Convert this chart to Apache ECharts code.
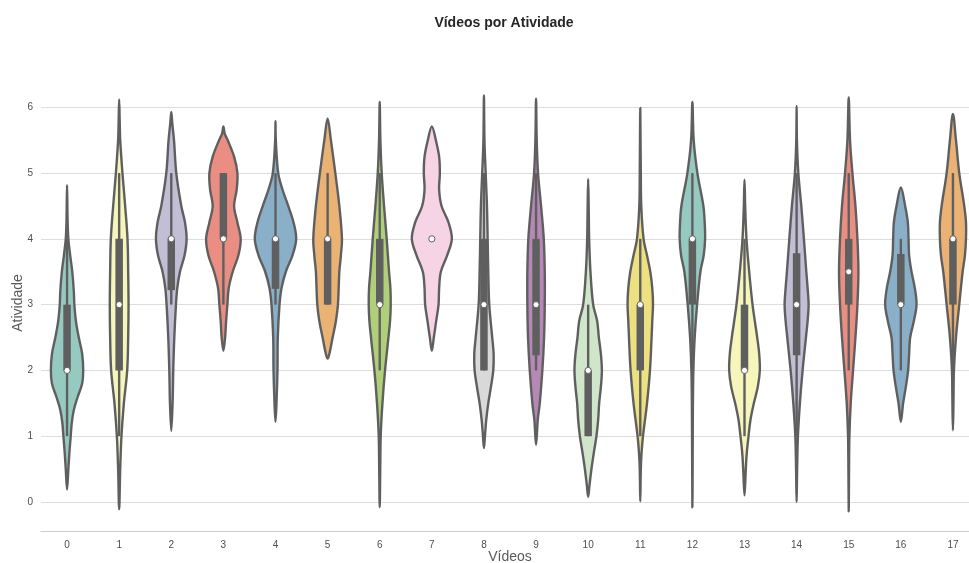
<!DOCTYPE html>
<html>
<head>
<meta charset="utf-8">
<title>Vídeos por Atividade</title>
<script src="https://cdn.jsdelivr.net/npm/echarts@6/dist/echarts.min.js"></script>
<style>
  html, body { margin: 0; padding: 0; background: #ffffff; }
  #chart { width: 969px; height: 563px; }
</style>
</head>
<body>
<div id="chart"></div>
<script>
// Categories on the x axis (video index)
const categories = ['0','1','2','3','4','5','6','7','8','9','10','11','12','13','14','15','16','17'];

// Inner box statistics per video
const medians     = [2, 3, 4,    4, 4,    4, 3, 4, 3, 3,    2, 3, 4, 2, 3,    3.5, 3,    4];
const quartile1   = [2, 2, 3.22, 4, 3.24, 3, 3, 4, 2, 2.23, 1, 2, 3, 2, 2.23, 3,   3,    3];
const quartile3   = [3, 4, 4,    5, 4,    4, 4, 4, 4, 4,    2, 3, 4, 3, 3.78, 4,   3.77, 4];
const whiskerLow  = [1, 1, 3,    3, 3,    3, 2, 4, 2, 2,    1, 1, 2, 1, 1,    2,   2,    2];
const whiskerHigh = [4, 5, 5,    5, 5,    5, 5, 4, 5, 5,    3, 4, 5, 4, 5,    5,   4,    5];

// Density outlines: [activity value, half width in % of the category band], top to bottom
const densityProfiles = [
  [[4.82,0],[4.3,1],[4.0,2.5],[3.75,6],[3.5,10],[3.2,13],[3.0,14],[2.75,17],[2.5,22.5],[2.25,29],[2.0,31],[1.8,29],[1.6,20.5],[1.4,13],[1.2,9],[1.0,7],[0.75,4.5],[0.5,2.5],[0.19,0]],
  [[6.12,0],[5.8,1],[5.5,2],[5.0,6.3],[4.5,11.5],[4.0,16],[3.5,17.3],[3.0,18],[2.5,17.3],[2.0,15.4],[1.5,9],[1.0,4.4],[0.5,2],[-0.11,0]],
  [[5.93,0],[5.75,2],[5.5,5.2],[5.0,9.6],[4.5,19.2],[4.25,26.3],[4.0,29.4],[3.75,25.5],[3.5,16.7],[3.25,11.5],[3.0,9],[2.5,5.8],[2.0,3.8],[1.5,2.5],[1.08,0]],
  [[5.71,0],[5.6,2.5],[5.5,8.3],[5.25,20.5],[5.0,26.9],[4.75,25.5],[4.5,20.5],[4.25,26.9],[4.0,33.2],[3.75,28.8],[3.5,17.9],[3.25,10.2],[3.0,7.7],[2.75,5.2],[2.5,3.3],[2.3,0]],
  [[5.79,0],[5.5,0.6],[5.0,5.2],[4.75,13.4],[4.5,24.4],[4.25,34.6],[4.0,39.7],[3.75,32.6],[3.5,19.8],[3.25,11.5],[3.0,7.7],[2.5,4.4],[2.0,3.8],[1.5,1.9],[1.22,0]],
  [[5.83,0],[5.5,6.3],[5.0,14.8],[4.5,22.5],[4.0,27.5],[3.75,25.5],[3.5,22.5],[3.0,19.8],[2.75,15.9],[2.5,9.6],[2.25,3.3],[2.18,0]],
  [[6.08,0],[5.5,1.3],[5.0,3.8],[4.5,8.3],[4.0,13.4],[3.5,17.9],[3.25,20.5],[3.0,21.1],[2.75,19.8],[2.5,16.7],[2.0,10.2],[1.5,5.2],[1.0,1.9],[0.5,1],[-0.08,0]],
  [[5.71,0],[5.5,7.7],[5.25,14],[5.0,15.4],[4.75,14],[4.5,18.6],[4.25,32],[4.0,38.4],[3.75,29.4],[3.5,17.3],[3.25,14],[3.0,12.9],[2.75,8.3],[2.5,3.8],[2.3,0]],
  [[6.18,0],[5.5,1],[5.0,3.3],[4.5,5.8],[4.0,7.1],[3.5,8.3],[3.0,10.2],[2.5,15.9],[2.25,18.6],[2.0,17.9],[1.75,13.4],[1.5,8.3],[1.25,4.4],[1.0,1.9],[0.82,0]],
  [[6.13,0],[5.5,1.3],[5.0,3.8],[4.5,9.6],[4.0,14.8],[3.5,16.7],[3.0,16.7],[2.5,15.4],[2.0,12.1],[1.5,7.1],[1.25,3.3],[0.87,0]],
  [[4.91,0],[4.5,1],[4.0,1.9],[3.5,4.4],[3.0,9.6],[2.75,17.3],[2.5,20.5],[2.25,24.4],[2.0,26.3],[1.75,24.4],[1.5,21.1],[1.25,19.2],[1.0,15.9],[0.75,10.9],[0.5,6.3],[0.25,2.5],[0.08,0]],
  [[5.99,0],[5.0,1],[4.5,1.9],[4.0,6.3],[3.75,12.9],[3.5,19.2],[3.25,23],[3.0,24.4],[2.75,23],[2.5,21.7],[2.0,18.6],[1.5,12.9],[1.0,5.2],[0.75,2.5],[0.5,1],[0.01,0]],
  [[6.08,0],[5.5,2.5],[5.0,9.6],[4.5,21.1],[4.25,23.6],[4.0,24.4],[3.75,21.7],[3.5,15.4],[3.0,9],[2.5,4.4],[2.0,1.9],[1.5,1],[-0.08,0]],
  [[4.9,0],[4.5,1.3],[4.0,3.8],[3.5,9],[3.0,15.4],[2.75,19.8],[2.5,24.4],[2.25,28.2],[2.0,29.4],[1.75,25.5],[1.5,17.9],[1.25,11.5],[1.0,7.7],[0.75,4.4],[0.5,2.5],[0.1,0]],
  [[6.02,0],[5.5,0.6],[5.0,3.3],[4.5,9],[4.0,14],[3.5,18.6],[3.25,21.1],[3.0,23],[2.75,21.1],[2.5,17.9],[2.0,11.5],[1.5,6.3],[1.0,2.5],[0.5,1],[0.0,0]],
  [[6.15,0],[5.5,2.5],[5.0,7.1],[4.5,12.9],[4.0,16.7],[3.5,18.6],[3.0,16.7],[2.5,12.9],[2.0,8.3],[1.5,3.8],[1.0,1.3],[0.5,0.6],[-0.14,0]],
  [[4.78,0],[4.5,8.3],[4.25,13.4],[4.0,14.8],[3.75,15.9],[3.5,20.5],[3.25,26.9],[3.0,30.1],[2.75,25],[2.5,17.9],[2.25,15.9],[2.0,14],[1.75,9.6],[1.5,4.4],[1.22,0]],
  [[5.9,0],[5.5,5.8],[5.0,12.1],[4.5,21.7],[4.25,25],[4.0,25],[3.75,23],[3.5,18.6],[3.0,12.1],[2.5,5.8],[2.0,1.9],[1.5,1],[1.09,0]]
];

// Set3 qualitative palette, softened to 75% saturation
const set3 = ['#8dd3c7','#ffffb3','#bebada','#fb8072','#80b1d3','#fdb462','#b3de69','#fccde5','#d9d9d9','#bc80bd','#ccebc5','#ffed6f'];
function desaturate(hex, prop) {
  const r = parseInt(hex.slice(1,3),16)/255, g = parseInt(hex.slice(3,5),16)/255, b = parseInt(hex.slice(5,7),16)/255;
  const mx = Math.max(r,g,b), mn = Math.min(r,g,b), l = (mx+mn)/2;
  if (mx === mn) return hex;
  const d = mx - mn;
  const s = l > 0.5 ? d/(2-mx-mn) : d/(mx+mn);
  const s2 = s*prop;
  const d2 = l > 0.5 ? s2*(2-2*l) : s2*(2*l);
  const mn2 = l - d2/2;
  const conv = c => mn2 + (c - mn)/d * d2;
  const toHex = c => Math.round(Math.max(0,Math.min(1,c))*255).toString(16).padStart(2,'0');
  return '#' + toHex(conv(r)) + toHex(conv(g)) + toHex(conv(b));
}
const fills = categories.map((c, i) => desaturate(set3[i % set3.length], 0.75));
const edge = '#5f5f5f';

const chart = echarts.init(document.getElementById('chart'), null, { renderer: 'canvas' });

function renderViolin(params, api) {
  const i = api.value(0);
  const prof = densityProfiles[i];
  const band = api.size([1, 0])[0];
  const cx = api.coord([i, 0])[0];
  const yOf = v => api.coord([i, v])[1];
  const right = prof.map(p => [cx + p[1] / 100 * band, yOf(p[0])]);
  const left = prof.slice(1, -1).reverse().map(p => [cx - p[1] / 100 * band, yOf(p[0])]);
  const pts = right.concat(left);
  return {
    type: 'group',
    children: [
      {
        type: 'polygon',
        shape: { points: pts, smooth: 0.35 },
        style: { fill: fills[i], stroke: edge, lineWidth: 2.4, lineJoin: 'round' }
      },
      {
        type: 'line',
        shape: { x1: cx, y1: yOf(whiskerLow[i]), x2: cx, y2: yOf(whiskerHigh[i]) },
        style: { stroke: edge, lineWidth: 2.4, lineCap: 'butt' }
      },
      {
        type: 'line',
        shape: { x1: cx, y1: yOf(quartile1[i]), x2: cx, y2: yOf(quartile3[i]) },
        style: { stroke: edge, lineWidth: 7.5, lineCap: 'butt' }
      },
      {
        type: 'circle',
        shape: { cx: cx, cy: yOf(medians[i]), r: 3.1 },
        style: { fill: '#ffffff', stroke: edge, lineWidth: 1 }
      }
    ]
  };
}

chart.setOption({
  backgroundColor: '#ffffff',
  animation: false,
  textStyle: { fontFamily: 'Liberation Sans, Arial, sans-serif' },
  title: {
    text: 'Vídeos por Atividade',
    left: 499,
    top: 11,
    textAlign: 'center',
    textStyle: { fontSize: 14, fontWeight: 'bold', color: '#262626', fontFamily: 'Liberation Sans, Arial, sans-serif' }
  },
  grid: { left: 41, right: -10, top: 74.4, bottom: 31.4, containLabel: false, outerBoundsMode: 'none' },
  xAxis: {
    type: 'category',
    data: categories,
    boundaryGap: true,
    name: 'Vídeos',
    nameLocation: 'middle',
    nameGap: 19,
    nameMoveOverlap: false,
    nameTextStyle: { fontSize: 14, color: '#595959', verticalAlign: 'top' },
    axisLine: { show: true, onZero: false, lineStyle: { color: '#cccccc', width: 1.2 } },
    axisTick: { show: false },
    axisLabel: { color: '#4d4d4d', fontSize: 10, margin: 9 },
    splitLine: { show: false }
  },
  yAxis: {
    type: 'value',
    min: -0.45,
    max: 6.5,
    splitNumber: 7,
    minInterval: 1,
    maxInterval: 1,
    name: 'Atividade',
    nameLocation: 'middle',
    nameGap: 16,
    nameMoveOverlap: false,
    nameTextStyle: { fontSize: 14, color: '#595959' },
    axisLine: { show: false },
    axisTick: { show: false },
    axisLabel: { color: '#4d4d4d', fontSize: 10, margin: 8, showMinLabel: false, showMaxLabel: false },
    splitLine: { show: true, showMinLine: false, showMaxLine: false, lineStyle: { color: '#dddddd', width: 1 } }
  },
  series: [{
    type: 'custom',
    renderItem: renderViolin,
    data: categories.map((c, i) => [i]),
    encode: { x: 0 },
    clip: false,
    z: 3
  }]
});
</script>
</body>
</html>
